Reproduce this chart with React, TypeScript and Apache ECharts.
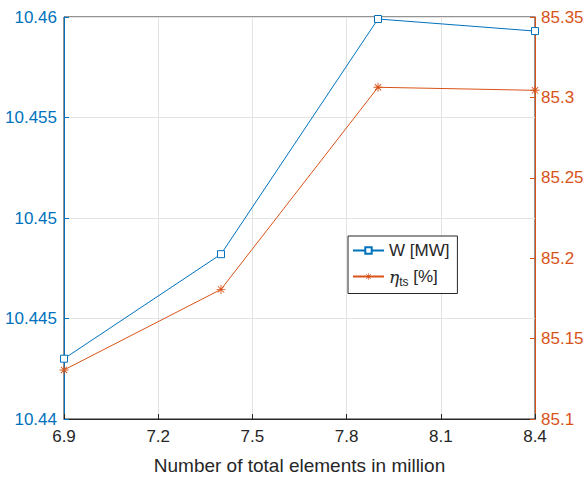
import React, { useEffect, useRef } from "react";
import * as echarts from "echarts";

const xValues = [6.9, 7.4, 7.9, 8.4];
const wValues = [10.443, 10.4482, 10.4599, 10.4593];
const etaValues = [85.1305, 85.1806, 85.3063, 85.3044];
const seriesNames = ["W [MW]", "eta"];
const xAxisTitle = "Number of total elements in million";

const BLUE = "#0072BD";
const ORANGE = "#D95319";
const DARK = "#262626";
const FONT = "Liberation Sans";

const ASTERISK =
  "path://M0 4.5 L10 4.5 L10 5.5 L0 5.5 Z M4.5 0 L5.5 0 L5.5 10 L4.5 10 Z " +
  "M1.15 1.85 L1.85 1.15 L8.85 8.15 L8.15 8.85 Z M8.15 1.15 L8.85 1.85 L1.85 8.85 L1.15 8.15 Z";

export default function App() {
  const ref = useRef<HTMLDivElement>(null);
  useEffect(() => {
    if (!ref.current) return;
    const chart = echarts.init(ref.current, undefined, { renderer: "svg" });
    chart.setOption({
      animation: false,
      backgroundColor: "#ffffff",
      textStyle: { fontFamily: FONT },
      grid: {
        left: 64,
        right: 52,
        top: 17,
        bottom: 62,
        show: true,
        borderColor: DARK,
        borderWidth: 1,
        backgroundColor: "transparent",
      },
      legend: {
        left: 348,
        top: 236,
        orient: "vertical",
        width: 105,
        padding: [6, 8, 6, 4],
        itemGap: 9,
        itemWidth: 31,
        itemHeight: 8,
        borderColor: DARK,
        borderWidth: 1,
        backgroundColor: "#ffffff",
        borderRadius: 0,
        textStyle: {
          fontFamily: FONT,
          fontSize: 17,
          color: DARK,
          rich: {
            e: { fontStyle: "italic", fontFamily: "DejaVu Serif", fontSize: 17, color: DARK },
            s: { fontSize: 12, padding: [10, 0, 0, 0], color: DARK, fontFamily: FONT },
            t: { fontSize: 17, color: DARK, fontFamily: FONT },
          },
        },
        formatter: (name: string) => (name === "eta" ? "{e|η}{s|ts}{t| [%]}" : name),
        data: seriesNames,
      },
      xAxis: {
        type: "value",
        min: 6.9,
        max: 8.4,
        interval: 0.3,
        name: xAxisTitle,
        nameLocation: "middle",
        nameGap: 37,
        nameTextStyle: { fontSize: 19, color: DARK, fontFamily: FONT },
        axisLine: { show: true, lineStyle: { color: DARK, width: 1 } },
        axisTick: { show: true, inside: true, length: 5, lineStyle: { color: DARK } },
        axisLabel: {
          fontSize: 17,
          color: DARK,
          margin: 9,
          fontFamily: FONT,
          formatter: (v: number) => v.toFixed(1),
        },
        splitLine: { show: true, lineStyle: { color: "#e3e3e3", width: 1 } },
      },
      yAxis: [
        {
          type: "value",
          position: "left",
          min: 10.44,
          max: 10.46,
          interval: 0.005,
          axisLine: { show: true, lineStyle: { color: BLUE, width: 1 } },
          axisTick: { show: true, inside: true, length: 5, lineStyle: { color: BLUE } },
          axisLabel: {
            fontSize: 17,
            color: BLUE,
            margin: 7,
            fontFamily: FONT,
            formatter: (v: number) => String(parseFloat(v.toFixed(3))),
          },
          splitLine: { show: true, lineStyle: { color: "#e3e3e3", width: 1 } },
        },
        {
          type: "value",
          position: "right",
          min: 85.1,
          max: 85.35,
          interval: 0.05,
          axisLine: { show: true, lineStyle: { color: ORANGE, width: 1 } },
          axisTick: { show: true, inside: true, length: 5, lineStyle: { color: ORANGE } },
          axisLabel: {
            fontSize: 17,
            color: ORANGE,
            margin: 6,
            fontFamily: FONT,
            formatter: (v: number) => String(parseFloat(v.toFixed(2))),
          },
          splitLine: { show: false },
        },
      ],
      series: [
        {
          name: seriesNames[0],
          type: "line",
          yAxisIndex: 0,
          data: xValues.map((x, i) => [x, wValues[i]]),
          symbol: "rect",
          symbolSize: 7,
          showAllSymbol: true,
          clip: false,
          lineStyle: { color: BLUE, width: 1 },
          itemStyle: { color: "#ffffff", borderColor: BLUE, borderWidth: 1 },
          z: 3,
        },
        {
          name: seriesNames[1],
          type: "line",
          yAxisIndex: 1,
          data: xValues.map((x, i) => [x, etaValues[i]]),
          symbol: ASTERISK,
          symbolSize: 9,
          showAllSymbol: true,
          clip: false,
          lineStyle: { color: ORANGE, width: 1 },
          itemStyle: { color: ORANGE, borderWidth: 0 },
          z: 3,
        },
      ],
    });
    return () => chart.dispose();
  }, []);
  return (
    <div
      ref={ref}
      style={{ position: "fixed", left: 0, top: 0, width: 587, height: 481, background: "#fff" }}
    />
  );
}
